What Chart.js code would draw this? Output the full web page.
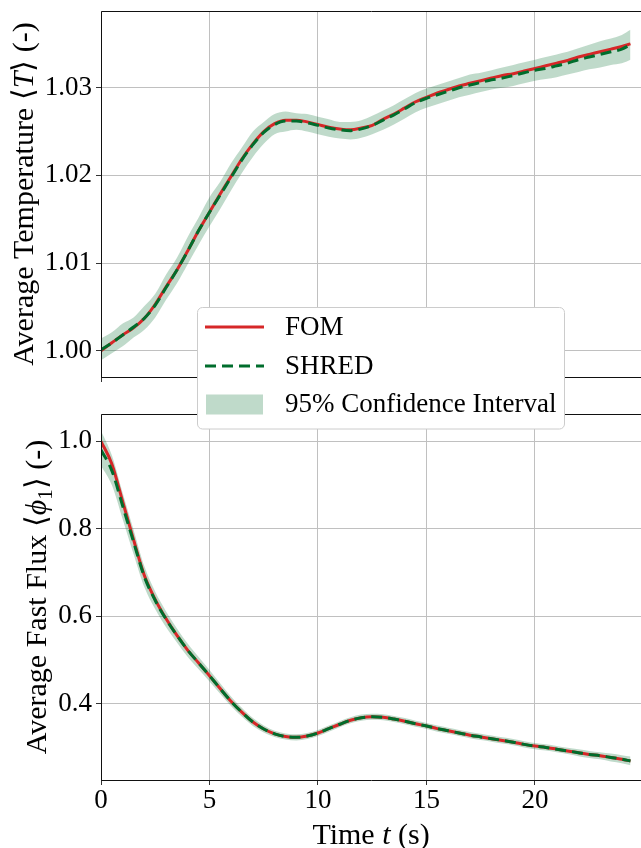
<!DOCTYPE html>
<html><head><meta charset="utf-8">
<script src="https://cdn.jsdelivr.net/npm/chart.js@4.4.1/dist/chart.umd.min.js"></script>
<style>
html,body{margin:0;padding:0;background:#fff;overflow:hidden;width:641px;height:848px;}
#wrap{position:relative;width:641px;height:848px;background:#fff;}
#c1{position:absolute;left:0;top:0;z-index:1;}
#c2{position:absolute;left:0;top:290px;z-index:2;}
</style></head><body>
<div id="wrap"><canvas id="c1" width="641" height="390"></canvas><canvas id="c2" width="641" height="558"></canvas></div>
<script>
// ---------- data ----------
const time = [0,0.5,1,1.5,2,2.5,3,3.5,4,4.5,5,5.5,6,6.5,7,7.5,8,8.5,9,9.5,10,10.5,11,11.5,12,12.5,13,13.5,14,14.5,15,15.5,16,16.5,17,17.5,18,18.5,19,19.5,20,20.5,21,21.5,22,22.5,23,23.5,24,24.4];

const tempFOM = [1.0000,1.0009,1.0018,1.0026,1.0037,1.0053,1.0073,1.0092,1.0114,1.0137,
  1.0158,1.0179,1.0199,1.0219,1.0236,1.0250,1.0259,1.0263,1.0263,1.0261,
  1.0258,1.0255,1.0253,1.0252,1.0254,1.0257,1.0264,1.0270,1.0277,1.0284,
  1.0289,1.0294,1.0298,1.0302,1.0305,1.0308,1.0311,1.0314,1.0316,1.0319,
  1.0322,1.0325,1.0328,1.0331,1.0335,1.0338,1.0341,1.0344,1.0347,1.0350];
const tempSHRED = [1.0001,1.0009,1.0018,1.0027,1.0037,1.0052,1.0072,1.0092,1.0114,1.0137,
  1.0158,1.0178,1.0198,1.0218,1.0235,1.0249,1.0258,1.0262,1.0262,1.0260,
  1.0257,1.0254,1.0252,1.0251,1.0253,1.0257,1.0263,1.0269,1.0276,1.0283,
  1.0288,1.0292,1.0296,1.0300,1.0303,1.0306,1.0309,1.0311,1.0314,1.0317,
  1.0320,1.0322,1.0325,1.0328,1.0332,1.0335,1.0338,1.0341,1.0344,1.0349];
const tempLower = [0.9989,0.9997,1.0005,1.0015,1.0024,1.0038,1.0058,1.0077,1.0099,1.0121,
  1.0142,1.0162,1.0183,1.0203,1.0221,1.0236,1.0247,1.0250,1.0252,1.0250,
  1.0247,1.0244,1.0242,1.0241,1.0243,1.0247,1.0252,1.0258,1.0265,1.0272,
  1.0277,1.0281,1.0285,1.0289,1.0292,1.0295,1.0298,1.0300,1.0302,1.0305,
  1.0308,1.0310,1.0312,1.0315,1.0318,1.0321,1.0323,1.0326,1.0328,1.0332];
const tempUpper = [1.0014,1.0021,1.0031,1.0038,1.0051,1.0065,1.0087,1.0106,1.0130,1.0152,
  1.0175,1.0193,1.0214,1.0232,1.0250,1.0261,1.0270,1.0273,1.0271,1.0270,
  1.0267,1.0264,1.0261,1.0261,1.0263,1.0268,1.0274,1.0280,1.0287,1.0294,
  1.0299,1.0303,1.0307,1.0311,1.0315,1.0317,1.0320,1.0323,1.0326,1.0329,
  1.0332,1.0335,1.0338,1.0341,1.0345,1.0349,1.0353,1.0356,1.0360,1.0366];

const fluxFOM = [1.000,0.948,0.862,0.775,0.693,0.638,0.594,0.556,0.522,0.493,
  0.464,0.434,0.405,0.380,0.358,0.342,0.331,0.325,0.323,0.326,
  0.333,0.343,0.353,0.362,0.368,0.370,0.369,0.365,0.360,0.354,
  0.349,0.343,0.338,0.333,0.328,0.324,0.320,0.316,0.312,0.307,
  0.303,0.300,0.296,0.292,0.288,0.284,0.281,0.277,0.273,0.269];
const fluxSHRED = [0.980,0.933,0.852,0.770,0.690,0.636,0.593,0.556,0.522,0.493,
  0.464,0.434,0.405,0.380,0.358,0.342,0.331,0.325,0.323,0.326,
  0.333,0.343,0.353,0.362,0.368,0.370,0.369,0.365,0.360,0.354,
  0.349,0.343,0.338,0.333,0.328,0.324,0.320,0.316,0.312,0.307,
  0.303,0.300,0.296,0.292,0.288,0.284,0.281,0.277,0.273,0.269];
const fluxLower = [0.944,0.900,0.822,0.742,0.666,0.616,0.575,0.540,0.507,0.479,
  0.451,0.422,0.394,0.370,0.349,0.334,0.324,0.318,0.316,0.319,
  0.326,0.336,0.346,0.355,0.361,0.363,0.362,0.358,0.353,0.347,
  0.342,0.336,0.331,0.326,0.321,0.317,0.313,0.309,0.305,0.300,
  0.296,0.293,0.289,0.285,0.280,0.276,0.273,0.268,0.264,0.259];
const fluxUpper = [1.024,0.968,0.882,0.798,0.714,0.656,0.611,0.572,0.537,0.507,
  0.477,0.446,0.416,0.390,0.367,0.350,0.338,0.332,0.330,0.333,
  0.340,0.350,0.360,0.369,0.375,0.377,0.376,0.372,0.367,0.361,
  0.356,0.350,0.345,0.340,0.335,0.331,0.327,0.323,0.319,0.314,
  0.310,0.307,0.303,0.299,0.296,0.292,0.289,0.286,0.282,0.279];

const xTicks = [0,5,10,15,20];
const tempTicks = [1.00,1.01,1.02,1.03];
const fluxTicks = [0.4,0.6,0.8,1.0];
const seriesLabels = ['FOM','SHRED','95% Confidence Interval'];

// ---------- styling ----------
const FONT = "'Liberation Serif','Times New Roman',serif";
const GRID = '#c0c0c0';
const TICK = '#333333';
const RED = '#d62728';
const GREEN = '#006d2c';
const BAND = 'rgba(0,109,44,0.25)';
const XMAX = 24.885;

function pts(xs, ys){ return xs.map((x,i)=>({x:x, y:ys[i]})); }
function makeDatasets(fom, shred, lo, hi){
  return [
    {label:seriesLabels[0], data:pts(time,fom), borderColor:RED, borderWidth:3, pointRadius:0, fill:false, cubicInterpolationMode:'monotone', order:2},
    {label:seriesLabels[1], data:pts(time,shred), borderColor:GREEN, borderWidth:3, borderDash:[11,6], pointRadius:0, fill:false, cubicInterpolationMode:'monotone', order:1},
    {label:'lower', data:pts(time,lo), borderColor:'rgba(0,0,0,0)', borderWidth:1, pointRadius:0, fill:false, cubicInterpolationMode:'monotone', order:4},
    {label:seriesLabels[2], data:pts(time,hi), borderColor:'rgba(0,0,0,0)', borderWidth:1, backgroundColor:BAND, pointRadius:0, fill:'-1', cubicInterpolationMode:'monotone', order:3}
  ];
}
function tickSetter(values){ return s => { s.ticks = values.map(v => ({value:v})); }; }
function fixBox(w, h){ return s => { if (w !== null) s.width = w; if (h !== null) s.height = h; s.paddingLeft = 0; s.paddingRight = 0; s.paddingTop = 0; s.paddingBottom = 0; }; }
const gridOpts = {color:GRID, lineWidth:1, tickColor:TICK, tickLength:5, tickWidth:1, drawTicks:true};

const spines = {
  id:'spines',
  afterDatasetsDraw(chart){
    const a = chart.chartArea, ctx = chart.ctx;
    const L = Math.round(a.left)+0.5, T = Math.round(a.top)+0.5, B = Math.round(a.bottom)+0.5, R = Math.round(a.right)+0.5;
    ctx.save(); ctx.strokeStyle = '#111'; ctx.lineWidth = 1; ctx.beginPath();
    ctx.moveTo(R, T); ctx.lineTo(L, T); ctx.lineTo(L, B); ctx.lineTo(R, B); ctx.stroke(); ctx.restore();
  }
};
function richTitle(items){
  return {
    id:'richTitle',
    afterDraw(chart){
      const ctx = chart.ctx, a = chart.chartArea;
      items.forEach(item => {
        ctx.save();
        const fontFor = s => (s.it ? 'italic ' : '') + (s.sub ? 21 : 30) + 'px ' + FONT;
        let total = 0;
        item.segments.forEach(s => { ctx.font = fontFor(s); s.w = ctx.measureText(s.t).width; total += s.w; });
        if (item.axis === 'y') { ctx.translate(item.base, (a.top + a.bottom)/2); ctx.rotate(-Math.PI/2); }
        else { ctx.translate((a.left + a.right)/2, item.base); }
        ctx.fillStyle = '#000'; ctx.textBaseline = 'alphabetic'; ctx.textAlign = 'left';
        let x = -total/2;
        item.segments.forEach(s => { ctx.font = fontFor(s); ctx.fillText(s.t, x, s.sub ? 6 : 0); x += s.w; });
        ctx.restore();
      });
    }
  };
}
const legendBox = {
  id:'legendBox',
  afterDraw(chart){
    const ctx = chart.ctx, ds = chart.data.datasets;
    const bx = 197.5, by = 17.5, bw = 367, bh = 121.5, r = 5;
    ctx.save();
    ctx.beginPath();
    ctx.moveTo(bx + r, by); ctx.lineTo(bx + bw - r, by); ctx.arcTo(bx + bw, by, bx + bw, by + r, r);
    ctx.lineTo(bx + bw, by + bh - r); ctx.arcTo(bx + bw, by + bh, bx + bw - r, by + bh, r);
    ctx.lineTo(bx + r, by + bh); ctx.arcTo(bx, by + bh, bx, by + bh - r, r);
    ctx.lineTo(bx, by + r); ctx.arcTo(bx, by, bx + r, by, r); ctx.closePath();
    ctx.fillStyle = '#fff'; ctx.fill(); ctx.strokeStyle = '#cccccc'; ctx.lineWidth = 1; ctx.stroke();
    const rows = [37, 76, 114.5];
    const entries = [ds[0], ds[1], ds[3]];
    ctx.font = '27px ' + FONT; ctx.textBaseline = 'middle'; ctx.textAlign = 'left';
    entries.forEach((d, i) => {
      const cy = rows[i];
      if (d.fill) { ctx.fillStyle = d.backgroundColor; ctx.fillRect(206, cy - 10, 57, 20); }
      else {
        ctx.beginPath(); ctx.setLineDash(d.borderDash || []); ctx.lineWidth = d.borderWidth; ctx.strokeStyle = d.borderColor;
        ctx.moveTo(205, cy); ctx.lineTo(264, cy); ctx.stroke(); ctx.setLineDash([]);
      }
      ctx.fillStyle = '#000'; ctx.fillText(d.label, 285, cy + 0.5);
    });
    ctx.restore();
  }
};

// ---------- top chart: temperature ----------
new Chart(document.getElementById('c1'), {
  type:'line',
  data:{datasets:makeDatasets(tempFOM, tempSHRED, tempLower, tempUpper)},
  options:{
    responsive:false, animation:false, devicePixelRatio:1,
    layout:{padding:{top:11,left:0,right:0,bottom:0}},
    plugins:{legend:{display:false}, tooltip:{enabled:false}, filler:{drawTime:'beforeDatasetsDraw'}},
    scales:{
      x:{type:'linear', min:0, max:XMAX, afterBuildTicks:tickSetter(xTicks), afterFit:fixBox(null,13),
         ticks:{autoSkip:false, maxRotation:0, callback:()=>'', font:{family:FONT,size:27}},
         grid:gridOpts, border:{display:false}},
      y:{type:'linear', min:0.997, max:1.03875, afterBuildTicks:tickSetter(tempTicks), afterFit:fixBox(101,null),
         ticks:{autoSkip:false, padding:4, color:'#000', font:{family:FONT,size:27}, callback:v=>Number(v).toFixed(2)},
         grid:gridOpts, border:{display:false}}
    }
  },
  plugins:[spines, richTitle([{axis:'y', base:33, segments:[{t:'Average Temperature \u27E8'},{t:'T',it:true},{t:'\u27E9 (-)'}]}])]
});

// ---------- bottom chart: fast flux ----------
new Chart(document.getElementById('c2'), {
  type:'line',
  data:{datasets:makeDatasets(fluxFOM, fluxSHRED, fluxLower, fluxUpper)},
  options:{
    responsive:false, animation:false, devicePixelRatio:1,
    layout:{padding:{top:124,left:0,right:0,bottom:0}},
    plugins:{legend:{display:false}, tooltip:{enabled:false}, filler:{drawTime:'beforeDatasetsDraw'}},
    scales:{
      x:{type:'linear', min:0, max:XMAX, afterBuildTicks:tickSetter(xTicks), afterFit:fixBox(null,68),
         ticks:{autoSkip:false, maxRotation:0, padding:0, color:'#000', font:{family:FONT,size:27}, callback:v=>String(v)},
         grid:gridOpts, border:{display:false}},
      y:{type:'linear', min:0.2255, max:1.0624, afterBuildTicks:tickSetter(fluxTicks), afterFit:fixBox(101,null),
         ticks:{autoSkip:false, padding:4, color:'#000', font:{family:FONT,size:27}, callback:v=>Number(v).toFixed(1)},
         grid:gridOpts, border:{display:false}}
    }
  },
  plugins:[spines,
    richTitle([
      {axis:'y', base:46, segments:[{t:'Average Fast Flux \u27E8'},{t:'\u03D5',it:true},{t:'1',sub:true},{t:'\u27E9 (-)'}]},
      {axis:'x', base:554, segments:[{t:'Time '},{t:'t',it:true},{t:' (s)'}]}
    ]),
    legendBox]
});
</script>
</body></html>
